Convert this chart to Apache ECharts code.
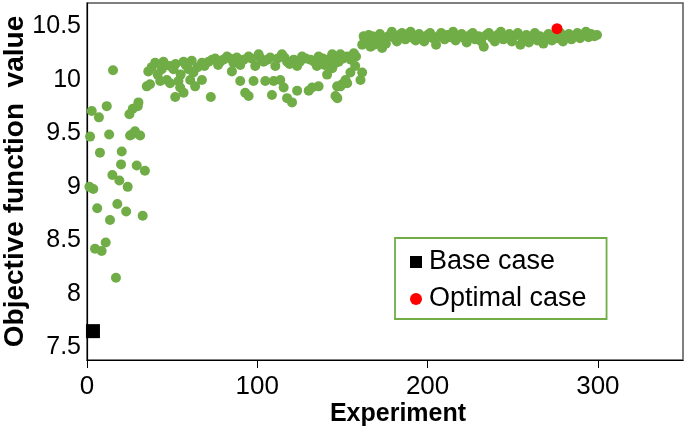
<!DOCTYPE html>
<html>
<head>
<meta charset="utf-8">
<script src="https://cdn.jsdelivr.net/npm/echarts@6/dist/echarts.min.js"></script>
<style>html,body{margin:0;padding:0;background:#fff;}#c{width:685px;height:438px;}</style>
</head>
<body>
<div id="c"></div>
<script>
// ---- data ----
var xTicks = [0, 100, 200, 300];
var yTicks = [7.5, 8, 8.5, 9, 9.5, 10, 10.5];
var xAxisTitle = 'Experiment';
var yAxisTitle = 'Objective function  value';
var baseCaseName = 'Base case';
var optimalCaseName = 'Optimal case';
var baseCase = [[3.5, 7.65]];
var optimalCase = [[276, 10.48]];
var earlyRuns = [
  [1.4,9.00],[1.8,9.47],[2.8,9.71],[3.7,8.98],[4.7,8.42],[6,8.80],[7,9.65],[7.6,9.32],
  [8.6,8.40],[11,8.48],[11.6,9.755],[13,9.49],[13.5,8.69],[14.9,9.11],[15.3,10.09],[17,8.15],
  [17.8,8.84],[19,9.06],[20,9.21],[20.4,9.33],[23,8.77],[23.9,9.0],[24.9,9.68],[25.3,9.48],
  [26.3,9.49],[26.9,9.73],[28.2,9.52],[29.2,9.2],[29.8,9.755],[30.2,9.79],[31.2,9.48],
  [32.7,8.73],[34,9.15]
];
var middleRuns = [
  [35.1,9.94],[36,10.08],[37,9.96],[40,10.16],[43,9.99],[43.9,10.10],[44.9,10.17],[46.9,10.0],
  [48.8,10.13],[48.8,9.97],[50.8,10.10],[51.8,9.84],[53.7,9.99],[54.7,9.93],[56.7,10.17],[56.7,9.88],
  [59.6,10.10],[60.6,10.0],[62.5,10.07],[63.5,9.94],[67.5,10.16],[67.5,10.0],[71.4,10.17],[72.7,9.84],
  [75.3,10.2],[78.2,10.17],[82.2,10.22],[85.1,10.08],[86,10.16],[88,10.21],[90,10.14],[90,9.99],
  [92.9,9.88],[94.9,9.85],[94.9,10.22],[97.8,9.99],[98.8,10.13],[100.8,10.24],[103.7,10.17],[104.7,9.99],
  [107.6,10.21],[108.6,9.86],[109.6,9.99],[110.6,10.13],[113.5,10.0],[114.5,10.24],[115.5,9.93],[117.5,10.17],
  [117.5,9.83],[120.4,9.79],[121.4,10.19],[123.4,10.13],[123.4,9.9],[126.3,10.22],[130.2,9.9],[131.2,10.19],
  [132.2,9.93],[135,10.13],[136,10.22],[136,9.94],[141,10.19],[141,10.05],[143,10.11],[144,10.24],
  [144,10.11],[144.9,10.22],[145.9,9.85],[145.9,10.16],[146.9,9.94],[147,9.83],[147.8,10.17],[148.8,10.24],
  [148.8,9.94],[149.8,9.96],[151.8,10.0],[152.8,10.22],[152.8,9.97],[154.7,10.07],[156.7,10.25],[160.6,10.0],
  [161.6,10.07],
  [38,10.12],[41.5,10.05],[46,10.14],[52,10.15],[55,10.05],[58,10.14],[61.5,10.18],[65,10.12],
  [69,10.13],[73.5,10.19],[77,10.14],[80,10.19],[84,10.2],[87.5,10.18],[92,10.19],[96.5,10.2],
  [102,10.2],[106,10.19],[112,10.2],[116,10.21],[119,10.15],[125,10.17],[128.5,10.2],[133.5,10.17],
  [138.5,10.2],[139.5,10.14],[150.5,10.2],[155,10.19],[158,10.22],[157.5,10.13]
];
var lateRuns = [
  [161.6,10.33],[162.5,10.41],[163,10.38],[164,10.35],[165.5,10.42],[166.5,10.31],[167,10.37],[167.5,10.41],
  [168.5,10.33],[170,10.40],[171.4,10.36],[172,10.43],[173.3,10.30],[174,10.38],[175.5,10.34],[177,10.41],
  [179,10.45],[180.5,10.39],[182,10.36],[183.5,10.42],[185,10.44],[187,10.38],[188.5,10.41],[190,10.45],
  [191.5,10.39],[193,10.37],[195,10.43],[196.5,10.40],[198,10.36],[200,10.42],[201.5,10.44],[203,10.39],
  [205,10.33],[206.5,10.41],[208,10.44],[210,10.38],[211.5,10.42],[213,10.40],[215,10.45],[216.5,10.37],
  [218,10.41],[220,10.43],[221.5,10.39],[223,10.35],[225,10.42],[226.5,10.44],[228,10.38],[230,10.41],
  [231.5,10.36],[233,10.31],[234.5,10.42],[236,10.44],[238,10.39],[239.5,10.36],[241,10.42],[243,10.45],
  [244.5,10.38],[246,10.40],[248,10.43],[249.5,10.36],[251,10.41],[253,10.44],[254.5,10.33],[256,10.39],
  [258,10.42],[259.5,10.35],[261,10.40],[263,10.44],[264.5,10.37],[266,10.41],[268,10.34],[269.5,10.39],
  [271,10.43],[273,10.37],[274.5,10.41],[276,10.39],[278,10.44],[279.5,10.36],[281,10.40],[283,10.43],
  [284.5,10.38],[286,10.41],[288,10.44],[289.5,10.39],[291,10.42],[293,10.45],[294.5,10.40],[296,10.43],
  [298,10.41],[299.5,10.42]
];
// ---- chart ----
var experiments = earlyRuns.concat(middleRuns, lateRuns);
var FONT = '"Liberation Sans", Arial, sans-serif';
var chart = echarts.init(document.getElementById('c'), null, {renderer: 'canvas'});
chart.setOption({
  animation: false,
  backgroundColor: '#ffffff',
  textStyle: {fontFamily: FONT},
  grid: {left: 87, right: 2, top: 3, bottom: 78, show: true, borderColor: '#555', borderWidth: 1.5,
         containLabel: false, outerBoundsMode: 'none'},
  xAxis: {
    type: 'value', min: 0, max: 350,
    name: xAxisTitle, nameLocation: 'middle', nameGap: 42, nameMoveOverlap: false,
    nameTextStyle: {fontFamily: FONT, fontWeight: 'bold', fontSize: 25, color: '#000', padding: [0, 0, 0, 26]},
    axisLine: {show: true, lineStyle: {color: '#000', width: 1.2}},
    axisTick: {show: true, length: 8, customValues: xTicks, lineStyle: {color: '#000'}},
    axisLabel: {customValues: xTicks, fontSize: 26, color: '#000', margin: 14, fontFamily: FONT},
    splitLine: {show: false}
  },
  yAxis: {
    type: 'value', min: 7.38, max: 10.72,
    name: yAxisTitle, nameLocation: 'middle', nameGap: 58, nameRotate: 90, nameMoveOverlap: false,
    nameTextStyle: {fontFamily: FONT, fontWeight: 'bold', fontSize: 28, color: '#000'},
    axisLine: {show: true, lineStyle: {color: '#000', width: 1.2}},
    axisTick: {show: false},
    axisLabel: {customValues: yTicks, fontSize: 25, color: '#000', margin: 6, fontFamily: FONT},
    splitLine: {show: false}
  },
  legend: {
    left: 395, top: 238, orient: 'vertical',
    data: [{name: baseCaseName, icon: 'rect'}, {name: optimalCaseName, icon: 'circle'}],
    itemWidth: 12, itemHeight: 12, itemGap: 9, itemStyle: {borderWidth: 0},
    padding: [10, 20, 6, 15],
    borderColor: '#70AD47', borderWidth: 1.8,
    textStyle: {fontFamily: FONT, fontSize: 27, color: '#000', lineHeight: 28, padding: [0, 0, 0, 2]}
  },
  series: [
    {type: 'scatter', name: 'Experiments', data: experiments, symbol: 'circle', symbolSize: 10,
     itemStyle: {color: '#70AD47', opacity: 1}},
    {type: 'scatter', name: baseCaseName, data: baseCase, symbol: 'rect', symbolSize: 14,
     itemStyle: {color: '#000', opacity: 1}},
    {type: 'scatter', name: optimalCaseName, data: optimalCase, symbol: 'circle', symbolSize: 11,
     itemStyle: {color: '#FF0000', opacity: 1}}
  ]
});
</script>
</body>
</html>
